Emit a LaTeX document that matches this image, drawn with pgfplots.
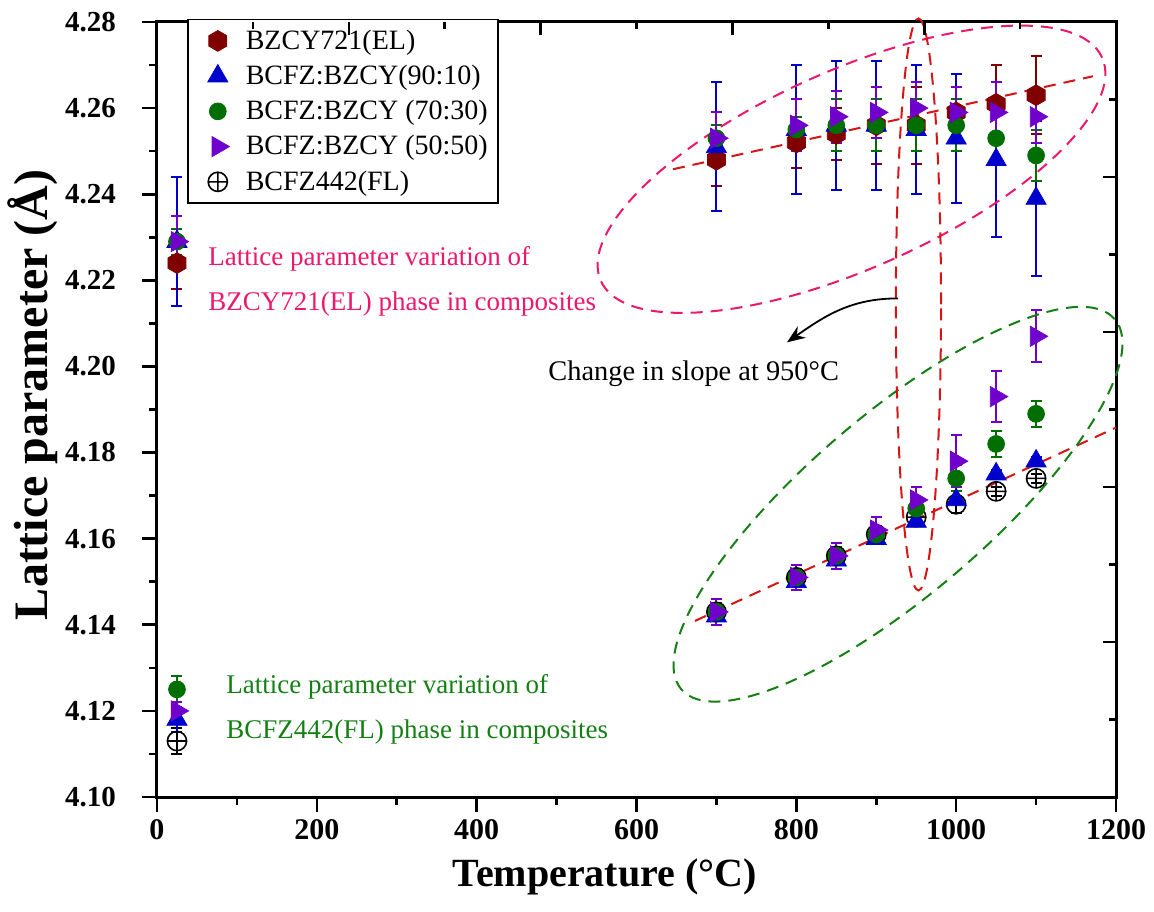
\documentclass[border=0pt]{standalone}
\usepackage{fontspec}
\setmainfont{Liberation Serif}
\usepackage{pgfplots}
\usepackage{pgfplotstable}
\pgfplotsset{compat=1.18}
\usetikzlibrary{arrows.meta}

\definecolor{cBr}{RGB}{128,0,0}
\definecolor{cBl}{RGB}{0,0,205}
\definecolor{cGr}{RGB}{0,110,0}
\definecolor{cPu}{RGB}{112,0,204}
\definecolor{cPink}{RGB}{236,24,110}
\definecolor{cGt}{RGB}{20,128,20}
\definecolor{cRed}{RGB}{215,20,20}

\pgfdeclareplotmark{hexagon*}{%
  \pgfpathmoveto{\pgfpointpolar{30}{\pgfplotmarksize}}%
  \pgfpathlineto{\pgfpointpolar{90}{\pgfplotmarksize}}%
  \pgfpathlineto{\pgfpointpolar{150}{\pgfplotmarksize}}%
  \pgfpathlineto{\pgfpointpolar{210}{\pgfplotmarksize}}%
  \pgfpathlineto{\pgfpointpolar{270}{\pgfplotmarksize}}%
  \pgfpathlineto{\pgfpointpolar{330}{\pgfplotmarksize}}%
  \pgfpathclose
  \pgfusepathqfillstroke}

% BZCY721(EL)
\pgfplotstableread{
x y e
25 4.224 0.006
700 4.248 0.006
800 4.252 0.006
850 4.254 0.006
900 4.256 0.009
950 4.256 0.009
1000 4.259 0.009
1050 4.261 0.009
1100 4.263 0.009
}\tBZ
% BCFZ:BZCY 90:10, EL phase
\pgfplotstableread{
x y e
25 4.229 0.015
700 4.251 0.015
800 4.255 0.015
850 4.256 0.015
900 4.256 0.015
950 4.255 0.015
1000 4.253 0.015
1050 4.248 0.018
1100 4.239 0.018
}\tBlU
% 90:10, FL phase
\pgfplotstableread{
x y e
25 4.118 0.003
700 4.142 0.001
800 4.150 0.001
850 4.155 0.001
900 4.160 0.001
950 4.164 0.001
1000 4.169 0.001
1050 4.175 0.001
1100 4.178 0.001
}\tBlL
% 70:30, EL phase
\pgfplotstableread{
x y e
25 4.229 0.003
700 4.253 0.003
800 4.255 0.003
850 4.256 0.006
900 4.256 0.006
950 4.256 0.006
1000 4.256 0.006
1050 4.253 0.006
1100 4.249 0.006
}\tGrU
% 70:30, FL phase
\pgfplotstableread{
x y e
25 4.125 0.003
700 4.143 0.002
800 4.151 0.002
850 4.156 0.002
900 4.161 0.002
950 4.167 0.002
1000 4.174 0.003
1050 4.182 0.003
1100 4.189 0.003
}\tGrL
% 50:50, EL phase
\pgfplotstableread{
x y e
25 4.229 0.006
700 4.253 0.006
800 4.256 0.006
850 4.258 0.006
900 4.259 0.006
950 4.260 0.006
1000 4.259 0.006
1050 4.259 0.007
1100 4.258 0.006
}\tPuU
% 50:50, FL phase
\pgfplotstableread{
x y e
25 4.120 0.002
700 4.143 0.003
800 4.151 0.003
850 4.156 0.003
900 4.162 0.003
950 4.169 0.003
1000 4.178 0.006
1050 4.193 0.006
1100 4.207 0.006
}\tPuL
% BCFZ442(FL)
\pgfplotstableread{
x y e
25 4.113 0.003
700 4.143 0.002
800 4.151 0.001
850 4.156 0.001
900 4.161 0.001
950 4.165 0.001
1000 4.168 0.002
1050 4.171 0.001
1100 4.174 0.001
}\tFL

\pgfplotsset{
  ebar/.style={
    error bars/y dir=both, error bars/y explicit,
    error bars/error bar style={line width=1pt,#1},
    error bars/error mark options={rotate=90,mark size=2.75pt,line width=1pt,#1}},
  myleg/.style={legend image code/.code={%
    \path[draw=none,fill=none] (0pt,-1pt) rectangle (24pt,1pt);
    \path[##1, draw=none] plot coordinates {(12pt,0pt)};}},
}
\tikzset{dashsty/.style={line width=1pt, dash pattern=on 6pt off 4pt}}

\begin{document}
\begin{tikzpicture}
\begin{axis}[
  at={(0,0)}, anchor=south west,
  scale only axis, width=479.5pt, height=387.5pt,
  xmin=0, xmax=1200, ymin=4.10, ymax=4.28,
  clip=false,
  xtick={0,200,400,600,800,1000,1200},
  minor xtick={100,300,500,700,900,1100},
  ytick={4.10,4.12,4.14,4.16,4.18,4.20,4.22,4.24,4.26,4.28},
  minor ytick={4.11,4.13,4.15,4.17,4.19,4.21,4.23,4.25,4.27},
  xtick pos=left, ytick pos=left,
  tick align=outside,
  major tick length=7.5pt, minor tick length=3.75pt,
  every tick/.style={black, line width=1.3pt},
  axis line style={line width=1.5pt},
  /pgf/number format/assume math mode=true,
  xticklabel style={font=\bfseries\fontsize{15}{18}\selectfont, /pgf/number format/1000 sep={}},
  yticklabel style={font=\bfseries\fontsize{14.5}{18}\selectfont, xshift=-9.5pt,
     /pgf/number format/.cd, fixed, fixed zerofill, precision=2},
  xlabel={Temperature (°C)},
  ylabel={Lattice parameter (Å)},
  xlabel style={font=\bfseries\fontsize{20}{24}\selectfont, at={(axis description cs:0.467,-0.1032)}, anchor=center},
  ylabel style={font=\bfseries\fontsize{24}{28}\selectfont, at={(axis description cs:-0.1293,0.519)}, anchor=center},
  legend style={at={(axis description cs:0.0313,1.004)}, anchor=north west,
     draw=black, line width=0.8pt, font=\fontsize{14}{17}\selectfont,
     inner xsep=3pt, inner ysep=3pt, row sep=2.4pt,
     /tikz/every odd column/.append style={column sep=0pt}},
  legend cell align=left,
]
\addplot[only marks, myleg, mark=hexagon*, mark size=5.2pt, mark options={fill=cBr, draw=cBr, line width=0.4pt}, ebar=cBr]
  table[x=x,y=y,y error=e]{\tBZ};
\addlegendentry{BZCY721(EL)}
\addplot[only marks, myleg, mark=triangle*, mark size=5.8pt, mark options={fill=cBl, draw=cBl, line width=0.4pt}, ebar=cBl]
  table[x=x,y=y,y error=e]{\tBlU};
\addlegendentry{BCFZ:BZCY(90:10)}
\addplot[only marks, myleg, mark=*, mark size=4.2pt, mark options={fill=cGr, draw=cGr, line width=0.4pt}, ebar=cGr]
  table[x=x,y=y,y error=e]{\tGrU};
\addlegendentry{BCFZ:BZCY (70:30)}
\addplot[only marks, myleg, mark=triangle*, mark size=5.8pt, mark options={rotate=-90, fill=cPu, draw=cPu, line width=0.4pt}, ebar=cPu]
  table[x=x,y=y,y error=e]{\tPuU};
\addlegendentry{BCFZ:BZCY (50:50)}
\addplot[only marks, myleg, mark=oplus, mark size=4.8pt, mark options={draw=black, line width=0.8pt}, ebar=black]
  table[x=x,y=y,y error=e]{\tFL};
\addlegendentry{BCFZ442(FL)}
\addplot[forget plot, only marks, mark=triangle*, mark size=5.8pt, mark options={fill=cBl, draw=cBl, line width=0.4pt}, ebar=cBl]
  table[x=x,y=y,y error=e]{\tBlL};
\addplot[forget plot, only marks, mark=*, mark size=4.2pt, mark options={fill=cGr, draw=cGr, line width=0.4pt}, ebar=cGr]
  table[x=x,y=y,y error=e]{\tGrL};
\addplot[forget plot, only marks, mark=triangle*, mark size=5.8pt, mark options={rotate=-90, fill=cPu, draw=cPu, line width=0.4pt}, ebar=cPu]
  table[x=x,y=y,y error=e]{\tPuL};

% dashed guide lines
\draw[cRed, dashsty] (axis cs:645.6,4.2458) -- (axis cs:1171.2,4.2674);
\draw[cRed, dashsty] (axis cs:673.2,4.1409) -- (axis cs:1200,4.1858);
% ellipses
\draw[cPink, dashsty, rotate around={24:(axis cs:869,4.2458)}] (axis cs:869,4.2458) ellipse [x radius=137.2pt, y radius=49.5pt];
\draw[cGt, dashsty, rotate around={40.5:(axis cs:927.2,4.168)}] (axis cs:927.2,4.168) ellipse [x radius=142.5pt, y radius=45pt];
\draw[cRed, dashsty] (axis cs:952.8,4.2144) ellipse [x radius=11.3pt, y radius=143pt];
% arrow
\draw[-{Stealth[length=9pt,width=7pt]}, line width=0.9pt] (axis cs:927.2,4.2158) to[out=180,in=35] (axis cs:788.3,4.2056);
% annotations
\node[anchor=base west, inner sep=0, text=cPink, font=\fontsize{13.5}{16}\selectfont] at (axis cs:63.8,4.2235) {Lattice parameter variation of};
\node[anchor=base west, inner sep=0, text=cPink, font=\fontsize{13.5}{16}\selectfont] at (axis cs:63.8,4.2130) {BZCY721(EL) phase in composites};
\node[anchor=base west, inner sep=0, text=cGt, font=\fontsize{13.5}{16}\selectfont] at (axis cs:86.3,4.1240) {Lattice parameter variation of};
\node[anchor=base west, inner sep=0, text=cGt, font=\fontsize{13.5}{16}\selectfont] at (axis cs:86.3,4.1135) {BCFZ442(FL) phase in composites};
\node[anchor=base west, inner sep=0, font=\fontsize{14.2}{17}\selectfont] at (axis cs:489.2,4.1967) {Change in slope at 950°C};
\end{axis}
\begin{axis}[
  at={(0,0)}, anchor=south west,
  scale only axis, width=479.5pt, height=387.5pt,
  xmin=0, xmax=1200, ymin=4.10, ymax=4.28,
  axis line style={draw=none},
  xtick pos=right, ytick pos=right, tick align=inside,
  xtick={240,480,720,960}, minor xtick={120,360,600,840,1080},
  ytick={4.136,4.172,4.208,4.244}, minor ytick={4.118,4.154,4.190,4.226,4.262},
  xticklabel=\empty, yticklabel=\empty,
  major tick length=6.5pt, minor tick length=3.5pt,
  every tick/.style={black, line width=1.3pt},
]
\end{axis}
\pgfresetboundingbox
\path[use as bounding box] (-78.5pt,-57pt) rectangle (498.5pt,398.5pt);
\end{tikzpicture}
\end{document}
